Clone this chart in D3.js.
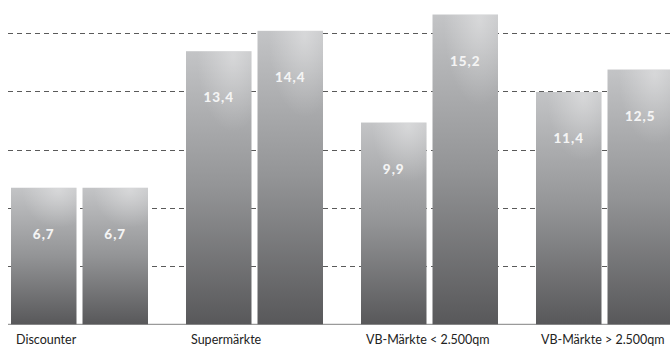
<!DOCTYPE html>
<html><head><meta charset="utf-8">
<script src="https://cdn.jsdelivr.net/npm/d3@7"></script>
<style>html,body{margin:0;padding:0;background:#fff;}svg{display:block;}</style>
</head><body><svg id="c" width="670" height="347"></svg>
<script>
const categories = ["Discounter", "Supermärkte", "VB-Märkte < 2.500qm", "VB-Märkte > 2.500qm"];
const series1 = [6.7, 13.4, 9.9, 11.4];
const series2 = [6.7, 14.4, 15.2, 12.5];
const valueLabels1 = ["6,7", "13,4", "9,9", "11,4"];
const valueLabels2 = ["6,7", "14,4", "15,2", "12,5"];
const gridValues = [20/7, 40/7, 60/7, 80/7, 100/7];

const W = 670, H = 347;
const baseY = 324.3;
const svg = d3.select("#c");

const y = d3.scaleLinear().domain([0, 15.9]).range([baseY, baseY - 15.9 * 20.38]);
const x0 = d3.scaleBand().domain(categories).range([11, 673]).paddingInner(38 / 175).paddingOuter(0);
const x1 = d3.scaleBand().domain([0, 1]).range([0, x0.bandwidth()]).paddingInner(0.084).paddingOuter(0);

const defs = svg.append("defs");
const lg = defs.append("linearGradient").attr("id", "gl").attr("x1", 0).attr("y1", 0).attr("x2", 0).attr("y2", 1);
lg.append("stop").attr("offset", "0%").attr("stop-color", "#c3c4c6");
lg.append("stop").attr("offset", "50%").attr("stop-color", "#939496");
lg.append("stop").attr("offset", "100%").attr("stop-color", "#58585a");
const rg = defs.append("radialGradient").attr("id", "gr").attr("cx", 0.72).attr("cy", 0.02).attr("r", 0.55)
  .attr("gradientTransform", "translate(0.72,0.02) scale(1,0.5) translate(-0.72,-0.02)");
rg.append("stop").attr("offset", "0%").attr("stop-color", "#ffffff").attr("stop-opacity", 0.35);
rg.append("stop").attr("offset", "100%").attr("stop-color", "#ffffff").attr("stop-opacity", 0);

// gridlines
svg.append("g").selectAll("line").data(gridValues).join("line")
  .attr("x1", 8).attr("x2", W)
  .attr("y1", d => Math.round(y(d)) + 0.5).attr("y2", d => Math.round(y(d)) + 0.5)
  .attr("stroke", "#5a5a5a").attr("stroke-width", 1).attr("stroke-dasharray", "5,4");

// baseline
svg.append("line").attr("x1", 8).attr("x2", W).attr("y1", baseY).attr("y2", baseY)
  .attr("stroke", "#9a9a9a").attr("stroke-width", 1.2);

const data = categories.map((c, i) => ({c, vals: [series1[i], series2[i]], labs: [valueLabels1[i], valueLabels2[i]]}));
const groups = svg.append("g").selectAll("g").data(data).join("g")
  .attr("transform", d => `translate(${x0(d.c)},0)`);

const bars = groups.selectAll("g").data(d => d.vals.map((v, k) => ({v, k, lab: d.labs[k]}))).join("g");
bars.append("rect").attr("x", d => x1(d.k)).attr("width", x1.bandwidth())
  .attr("y", d => y(d.v)).attr("height", d => baseY - y(d.v)).attr("fill", "url(#gl)");
bars.append("rect").attr("x", d => x1(d.k)).attr("width", x1.bandwidth())
  .attr("y", d => y(d.v)).attr("height", d => baseY - y(d.v)).attr("fill", "url(#gr)");
bars.append("text").attr("x", d => x1(d.k) + x1.bandwidth() / 2).attr("y", d => y(d.v) + 51)
  .attr("text-anchor", "middle").attr("fill", "#f4f4f4")
  .style("font-family", "Lato, sans-serif").style("font-weight", "900").style("font-size", "13.5px")
  .style("letter-spacing", "1px").text(d => d.lab);

groups.append("text").attr("x", 5).attr("y", 344)
  .attr("fill", "#222").style("font-family", "Lato, 'Open Sans', sans-serif").style("font-size", "12.5px")
  .text(d => d.c);
</script></body></html>
